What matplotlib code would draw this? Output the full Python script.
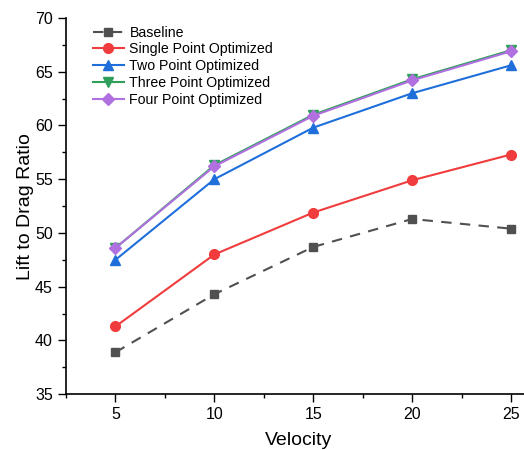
import matplotlib.pyplot as plt

plt.rcParams['font.family'] = ['Liberation Sans', 'DejaVu Sans']

velocity = [5, 10, 15, 20, 25]
baseline = [38.9, 44.3, 48.7, 51.3, 50.4]
single_point = [41.3, 48.0, 51.9, 54.9, 57.3]
two_point = [47.5, 55.0, 59.8, 63.0, 65.6]
three_point = [48.6, 56.3, 61.0, 64.3, 67.0]
four_point = [48.6, 56.2, 60.9, 64.2, 66.9]

fig = plt.figure(figsize=(5.24, 4.5), dpi=100)
ax = fig.add_axes([0.126, 0.124, 0.887, 0.836])

ax.plot(velocity, baseline, ls=(0, (5, 4)), color="#505050", marker="s",
        ms=6, lw=1.5, label="Baseline")
ax.plot(velocity, single_point, color="#F03C3C", marker="o", ms=7, lw=1.5,
        label="Single Point Optimized")
ax.plot(velocity, two_point, color="#1F6FDB", marker="^", ms=7, lw=1.5,
        label="Two Point Optimized")
ax.plot(velocity, three_point, color="#2EA05A", marker="v", ms=7, lw=1.5,
        label="Three Point Optimized")
ax.plot(velocity, four_point, color="#B070E0", marker="D", ms=6, lw=1.5,
        label="Four Point Optimized")

ax.set_xlim(2.5, 26.0)
ax.set_ylim(35, 70)
ax.set_xticks(velocity)
ax.set_xticks([2.5, 7.5, 12.5, 17.5, 22.5], minor=True)
ax.set_yticks(range(35, 71, 5))
ax.set_yticks([37.5, 42.5, 47.5, 52.5, 57.5, 62.5, 67.5], minor=True)
ax.tick_params(which="major", direction="out", length=6, width=1, labelsize=11.5)
ax.tick_params(which="minor", direction="out", length=3, width=1)
ax.spines["top"].set_visible(False)
ax.spines["right"].set_visible(False)
ax.spines["left"].set_linewidth(1.2)
ax.spines["bottom"].set_linewidth(1.2)

ax.set_xlabel("Velocity", fontsize=14, labelpad=7)
ax.set_ylabel("Lift to Drag Ratio", fontsize=14, labelpad=1)

ax.legend(loc="upper left", bbox_to_anchor=(0.045, 0.995), frameon=False,
          fontsize=10.2, handlelength=2.2, handletextpad=0.4, labelspacing=0.2,
          borderaxespad=0)

fig.savefig("out.png", dpi=100)
